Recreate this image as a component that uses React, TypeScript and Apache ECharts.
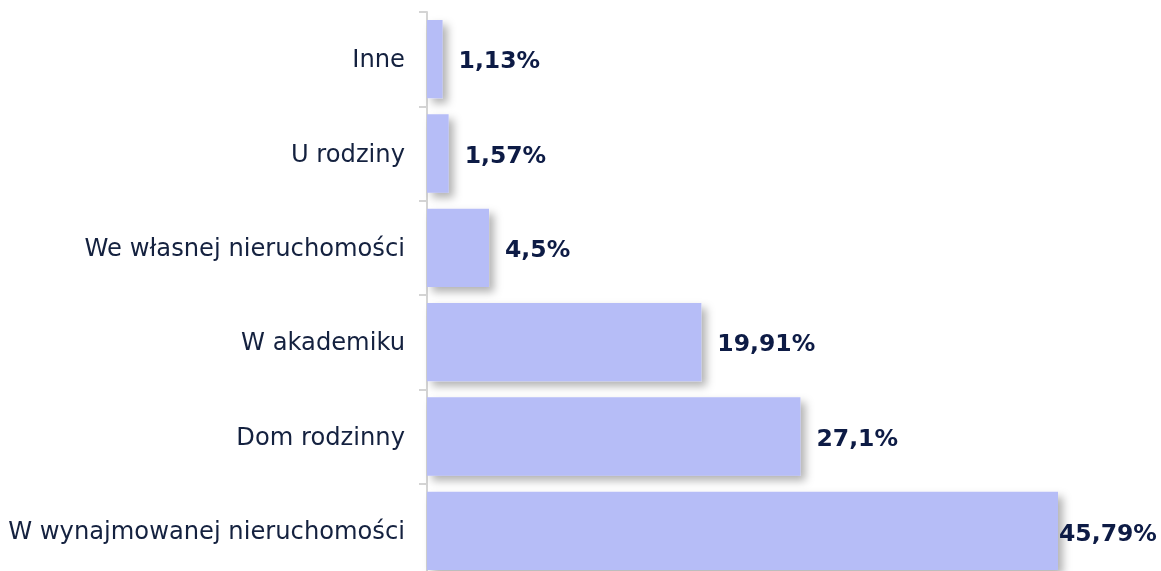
import React, { useEffect, useRef } from "react";
import * as echarts from "echarts";

const categories = [
  "W wynajmowanej nieruchomości",
  "Dom rodzinny",
  "W akademiku",
  "We własnej nieruchomości",
  "U rodziny",
  "Inne",
];
const values = [45.79, 27.1, 19.91, 4.5, 1.57, 1.13];
const labelDistances = [1, 16, 16, 16, 16, 16];

export default function App() {
  const ref = useRef<HTMLDivElement>(null);
  useEffect(() => {
    if (!ref.current) return;
    const chart = echarts.init(ref.current, null, { renderer: "svg" });
    chart.setOption({
      animation: false,
      grid: { left: 427, top: 12, width: 631, height: 566 },
      xAxis: {
        type: "value",
        min: 0,
        max: 45.79,
        show: false,
      },
      yAxis: {
        type: "category",
        data: categories,
        axisLine: { show: true, lineStyle: { color: "#d4d4d4", width: 2 } },
        axisTick: { show: true, length: 8, lineStyle: { color: "#d4d4d4", width: 2 } },
        axisLabel: {
          margin: 22,
          color: "#14213f",
          fontFamily: "DejaVu Sans",
          fontSize: 24.2,
        },
      },
      series: [
        {
          type: "bar",
          data: values.map((v, i) => ({
            value: v,
            label: { distance: labelDistances[i], offset: i === 0 ? [0, 2] : [0, 1] },
          })),
          barCategoryGap: "17%",
          itemStyle: {
            color: "#b6bdf7",
            shadowColor: "rgba(0,0,0,0.3)",
            shadowBlur: 8,
            shadowOffsetX: 5,
            shadowOffsetY: 5,
          },
          label: {
            show: true,
            position: "right",
            color: "#0d1b45",
            fontFamily: "DejaVu Sans",
            fontWeight: "bold",
            fontSize: 23.5,
            formatter: (p: any) => String(p.value).replace(".", ",") + "%",
          },
        },
      ],
    });
    return () => chart.dispose();
  }, []);
  return (
    <div
      ref={ref}
      style={{ position: "fixed", left: 0, top: 0, width: 1161, height: 600 }}
    />
  );
}
